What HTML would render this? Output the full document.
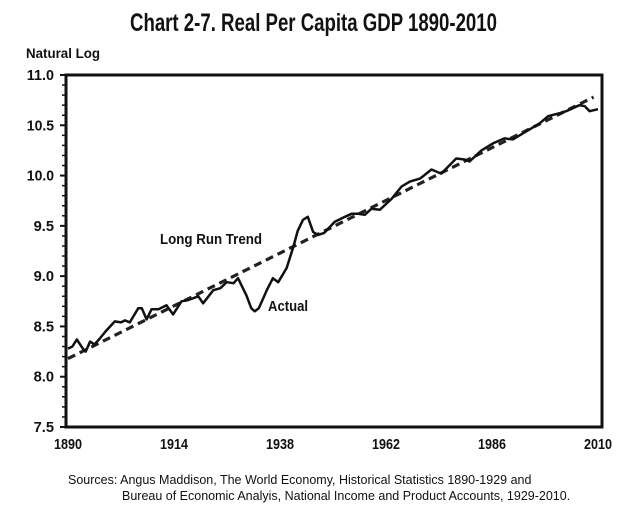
<!DOCTYPE html>
<html><head><meta charset="utf-8"><style>
body{margin:0;background:#fff;}
svg{display:block;font-family:"Liberation Sans",sans-serif;}
</style></head><body>
<svg id="chart" width="627" height="514" viewBox="0 0 627 514">
<text x="130" y="31" font-size="25" font-weight="bold" fill="#111" textLength="367" lengthAdjust="spacingAndGlyphs">Chart 2-7.  Real Per Capita GDP 1890-2010</text>
<text x="26" y="58" font-size="14" font-weight="bold" fill="#111" textLength="74" lengthAdjust="spacingAndGlyphs">Natural Log</text>
<g id="axes"></g>
<g id="series"></g>
<text x="160" y="244" font-size="15" font-weight="bold" fill="#111" textLength="102" lengthAdjust="spacingAndGlyphs">Long Run Trend</text>
<text x="268" y="311" font-size="15" font-weight="bold" fill="#111" textLength="40" lengthAdjust="spacingAndGlyphs">Actual</text>
<text x="68" y="484" font-size="12.5" fill="#111">Sources: Angus Maddison, The World Economy, Historical Statistics 1890-1929 and</text>
<text x="122" y="500" font-size="12.5" fill="#111">Bureau of Economic Analyis, National Income and Product Accounts, 1929-2010.</text>
</svg>
<script>
const yTicks=[7.5,8.0,8.5,9.0,9.5,10.0,10.5,11.0];
const yTickLabels=["7.5","8.0","8.5","9.0","9.5","10.0","10.5","11.0"];
const xTicks=[1890,1914,1938,1962,1986,2010];
const actualYears=[1890,1891,1892,1893.5,1894,1895,1896,1897.2,1898.5,1900.6,1902,1902.9,1904,1905.9,1906.7,1907.8,1908.9,1910.5,1912.3,1913.8,1915.7,1917,1918.3,1919.5,1920.6,1922.9,1924.5,1925.9,1927.5,1928.5,1930.4,1931.5,1932.3,1933.2,1935,1936.4,1937.6,1939.5,1941,1942,1943.2,1944.3,1945.5,1946.6,1948,1950.4,1952.7,1954.2,1955.7,1957.2,1958.7,1960.6,1963.3,1965.5,1967.4,1969.7,1972.3,1974.5,1977.9,1979.8,1980.9,1983.6,1986.2,1988.8,1990.7,1993.8,1996.8,1998.7,2001.3,2002.8,2005.8,2007,2008.1,2010];
const actualValues=[8.28,8.30,8.37,8.27,8.25,8.35,8.32,8.38,8.45,8.55,8.54,8.56,8.54,8.68,8.68,8.57,8.67,8.67,8.71,8.62,8.75,8.76,8.78,8.80,8.73,8.86,8.88,8.94,8.93,8.98,8.81,8.68,8.65,8.68,8.86,8.98,8.94,9.08,9.29,9.45,9.56,9.59,9.44,9.41,9.43,9.54,9.59,9.62,9.62,9.61,9.67,9.66,9.77,9.89,9.94,9.97,10.06,10.02,10.17,10.16,10.14,10.25,10.32,10.37,10.36,10.44,10.52,10.59,10.62,10.64,10.70,10.69,10.64,10.66];
const trendYears=[1890,2009];
const trendValues=[8.18,10.78];

const NS="http://www.w3.org/2000/svg";
const L=66,R=602,T=75,B=427;
const X0=68,X1=598;
const xs=y=>X0+(y-1890)/(2010-1890)*(X1-X0);
const ys=v=>B-(v-7.5)/(11-7.5)*(B-T);
function mk(tag,attrs,parent){const e=document.createElementNS(NS,tag);for(const k in attrs)e.setAttribute(k,attrs[k]);parent.appendChild(e);return e;}
const axes=document.getElementById('axes');
const frame=mk('rect',{x:L,y:T,width:R-L,height:B-T,fill:'none',stroke:'#111','stroke-width':3},axes);


for(let v=7.5;v<=11.0001;v+=0.1){
  const major=Math.abs(v*2-Math.round(v*2))<1e-6;
  const t=mk('line',{x1:L-(major?6:4),x2:L,y1:ys(v),y2:ys(v),stroke:'#111','stroke-width':major?2:1.5},axes);
  
  
}
yTicks.forEach((v,i)=>{
  const s=yTickLabels[i];
  const t=mk('text',{x:L-12,y:ys(v)+5,'text-anchor':'end','font-size':15,'font-weight':'bold',fill:'#111',textLength:s.length*6.8,lengthAdjust:'spacingAndGlyphs'},axes);
  t.textContent=s;
  
  
});
xTicks.forEach(yr=>{
  const t=mk('text',{x:xs(yr)-14,y:449,'font-size':15,'font-weight':'bold',fill:'#111',textLength:28,lengthAdjust:'spacingAndGlyphs'},axes);
  t.textContent=String(yr);
  
  
});
const series=document.getElementById('series');
const tp=mk('path',{d:trendYears.map((y,i)=>(i?'L':'M')+xs(y).toFixed(1)+','+ys(trendValues[i]).toFixed(1)).join(''),fill:'none',stroke:'#222','stroke-width':3.2,'stroke-dasharray':'8 5'},series);


const ap=mk('path',{d:actualYears.map((y,i)=>(i?'L':'M')+xs(y).toFixed(1)+','+ys(actualValues[i]).toFixed(1)).join(''),fill:'none',stroke:'#111','stroke-width':2.5,'stroke-linejoin':'round'},series);


</script>
</body></html>
